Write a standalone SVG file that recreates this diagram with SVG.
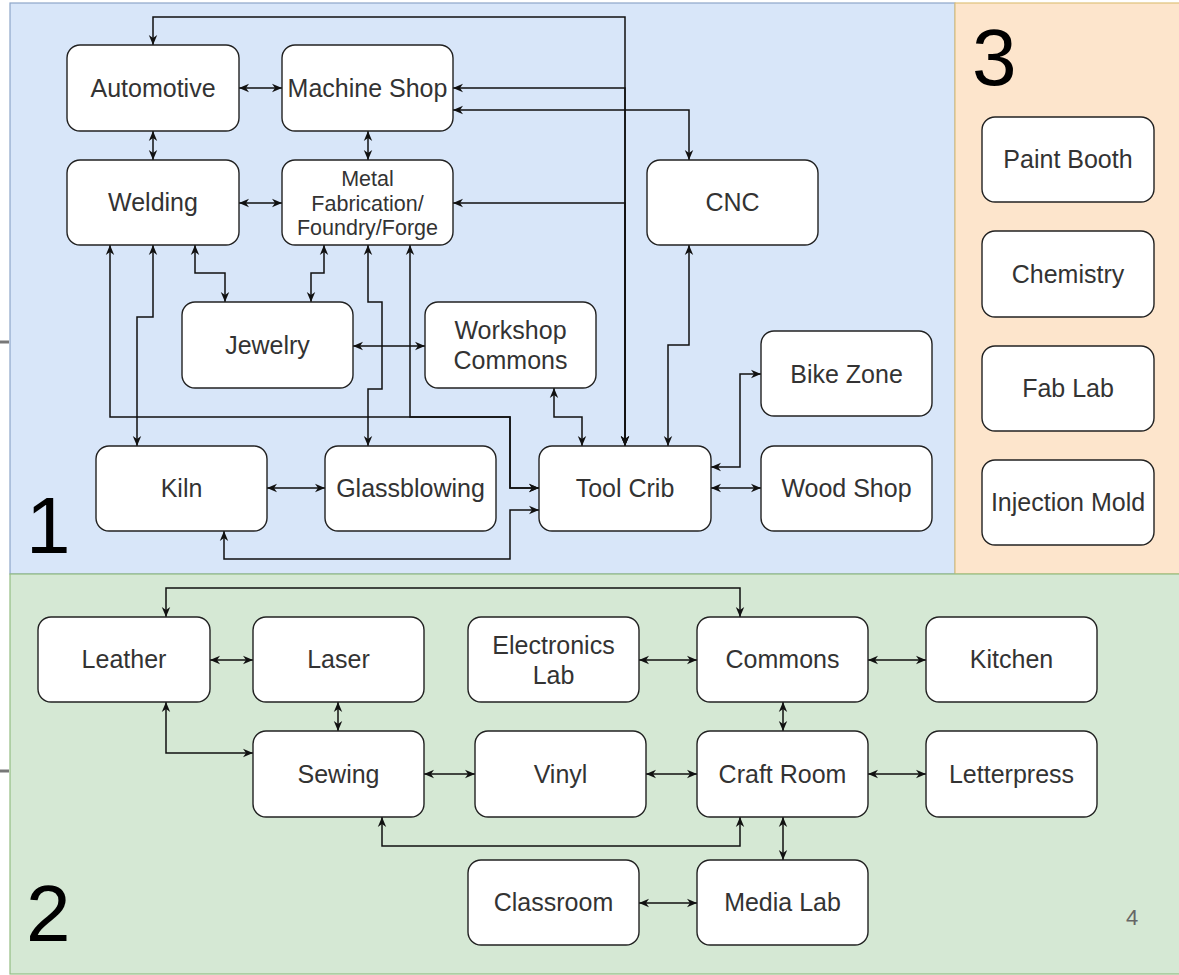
<svg xmlns="http://www.w3.org/2000/svg" width="1179" height="975" viewBox="0 0 1179 975">
<defs>
<marker id="arr" viewBox="0 0 10 10" refX="10" refY="5" markerWidth="10" markerHeight="10" markerUnits="userSpaceOnUse" orient="auto-start-reverse">
<path d="M0,0.8 L10,5 L0,9.2 L3,5 z" fill="#111"/>
</marker>
</defs>
<style>
.node rect{fill:#fff;stroke:#222;stroke-width:1.4}
.node text{font-family:"Liberation Sans",Arial,sans-serif;font-size:25px;fill:#333;text-anchor:middle}
.node text.sm{font-size:21.5px}
#connectors path{fill:none;stroke:#111;stroke-width:1.5;marker-start:url(#arr);marker-end:url(#arr)}
.big{font-family:"Liberation Sans",Arial,sans-serif;font-size:80px;fill:#000}
</style>
<rect x="0" y="0" width="1179" height="975" fill="#fff"/>
<g id="panels">
<rect x="10" y="3" width="945" height="571" fill="#d8e6f9" stroke="#8ea6c8" stroke-width="1.2"/>
<rect x="955" y="3" width="226" height="571" fill="#fde5cc" stroke="#e0c27a" stroke-width="1.2"/>
<rect x="10" y="574" width="1171" height="400" fill="#d5e8d4" stroke="#93bd82" stroke-width="1.2"/>
<line x1="0" y1="342" x2="9" y2="342" stroke="#777" stroke-width="3"/>
<line x1="0" y1="771" x2="9" y2="771" stroke="#777" stroke-width="3"/>
<text class="big" x="26" y="553">1</text>
<text class="big" x="26" y="941">2</text>
<text class="big" x="972" y="85">3</text>
<text x="1132" y="925" font-family="&quot;Liberation Sans&quot;,Arial,sans-serif" font-size="22" fill="#666" text-anchor="middle">4</text>
</g>
<g id="connectors">
<path d="M625,446 V17 H153 V45"/>
<path d="M625,446 V88 H453"/>
<path d="M625,446 V203 H453"/>
<path d="M453,110 H689 V160"/>
<path d="M689,245 V345 H668 V446"/>
<path d="M554,388 V417 H582 V446"/>
<path d="M711,467 H740 V374 H761"/>
<path d="M711,488 H761"/>
<path d="M110,245 V417 H510 V488 H539"/>
<path d="M410,245 V417 H510 V488 H539"/>
<path d="M224,531 V559 H510 V510 H539"/>
<path d="M267,488 H325"/>
<path d="M153,245 V317 H137 V446"/>
<path d="M195,245 V273 H225 V302"/>
<path d="M324,245 V273 H311 V302"/>
<path d="M368,245 V302 H382 V389 H368 V446"/>
<path d="M353,346 H425"/>
<path d="M239,88 H282"/>
<path d="M239,203 H282"/>
<path d="M153,131 V160"/>
<path d="M368,131 V160"/>
<path d="M166,617 V588 H740 V617"/>
<path d="M210,660 H253"/>
<path d="M338,702 V731"/>
<path d="M166,702 V753 H253"/>
<path d="M424,774 H475"/>
<path d="M639,660 H697"/>
<path d="M868,660 H926"/>
<path d="M783,702 V731"/>
<path d="M646,774 H697"/>
<path d="M868,774 H926"/>
<path d="M382,817 V846 H740 V817"/>
<path d="M783,817 V860"/>
<path d="M639,903 H697"/>
</g>
<g id="automotive" class="node"><rect x="67" y="45" width="172" height="86" rx="13"/><text x="153" y="97">Automotive</text></g>
<g id="machine-shop" class="node"><rect x="282" y="45" width="171" height="86" rx="13"/><text x="367.5" y="97">Machine Shop</text></g>
<g id="welding" class="node"><rect x="67" y="160" width="172" height="85" rx="13"/><text x="153" y="211">Welding</text></g>
<g id="metal-fab" class="node"><rect x="282" y="160" width="171" height="85" rx="13"/><text class="sm" x="367.5" y="186">Metal</text><text class="sm" x="367.5" y="210.5">Fabrication/</text><text class="sm" x="367.5" y="235">Foundry/Forge</text></g>
<g id="cnc" class="node"><rect x="647" y="160" width="171" height="85" rx="13"/><text x="732.5" y="211">CNC</text></g>
<g id="jewelry" class="node"><rect x="182" y="302" width="171" height="86" rx="13"/><text x="267.5" y="354">Jewelry</text></g>
<g id="workshop-commons" class="node"><rect x="425" y="302" width="171" height="86" rx="13"/><text x="510.5" y="339">Workshop</text><text x="510.5" y="369">Commons</text></g>
<g id="bike-zone" class="node"><rect x="761" y="331" width="171" height="85" rx="13"/><text x="846.5" y="383">Bike Zone</text></g>
<g id="kiln" class="node"><rect x="96" y="446" width="171" height="85" rx="13"/><text x="181.5" y="497">Kiln</text></g>
<g id="glassblowing" class="node"><rect x="325" y="446" width="171" height="85" rx="13"/><text x="410.5" y="497">Glassblowing</text></g>
<g id="tool-crib" class="node"><rect x="539" y="446" width="172" height="85" rx="13"/><text x="625" y="497">Tool Crib</text></g>
<g id="wood-shop" class="node"><rect x="761" y="446" width="171" height="85" rx="13"/><text x="846.5" y="497">Wood Shop</text></g>
<g id="paint-booth" class="node"><rect x="982" y="117" width="172" height="85" rx="13"/><text x="1068" y="168">Paint Booth</text></g>
<g id="chemistry" class="node"><rect x="982" y="231" width="172" height="86" rx="13"/><text x="1068" y="283">Chemistry</text></g>
<g id="fab-lab" class="node"><rect x="982" y="346" width="172" height="85" rx="13"/><text x="1068" y="397">Fab Lab</text></g>
<g id="injection-mold" class="node"><rect x="982" y="460" width="172" height="85" rx="13"/><text x="1068" y="511">Injection Mold</text></g>
<g id="leather" class="node"><rect x="38" y="617" width="172" height="85" rx="13"/><text x="124" y="668">Leather</text></g>
<g id="laser" class="node"><rect x="253" y="617" width="171" height="85" rx="13"/><text x="338.5" y="668">Laser</text></g>
<g id="electronics-lab" class="node"><rect x="468" y="617" width="171" height="85" rx="13"/><text x="553.5" y="654">Electronics</text><text x="553.5" y="684">Lab</text></g>
<g id="commons" class="node"><rect x="697" y="617" width="171" height="85" rx="13"/><text x="782.5" y="668">Commons</text></g>
<g id="kitchen" class="node"><rect x="926" y="617" width="171" height="85" rx="13"/><text x="1011.5" y="668">Kitchen</text></g>
<g id="sewing" class="node"><rect x="253" y="731" width="171" height="86" rx="13"/><text x="338.5" y="783">Sewing</text></g>
<g id="vinyl" class="node"><rect x="475" y="731" width="171" height="86" rx="13"/><text x="560.5" y="783">Vinyl</text></g>
<g id="craft-room" class="node"><rect x="697" y="731" width="171" height="86" rx="13"/><text x="782.5" y="783">Craft Room</text></g>
<g id="letterpress" class="node"><rect x="926" y="731" width="171" height="86" rx="13"/><text x="1011.5" y="783">Letterpress</text></g>
<g id="classroom" class="node"><rect x="468" y="860" width="171" height="85" rx="13"/><text x="553.5" y="911">Classroom</text></g>
<g id="media-lab" class="node"><rect x="697" y="860" width="171" height="85" rx="13"/><text x="782.5" y="911">Media Lab</text></g>
</svg>
